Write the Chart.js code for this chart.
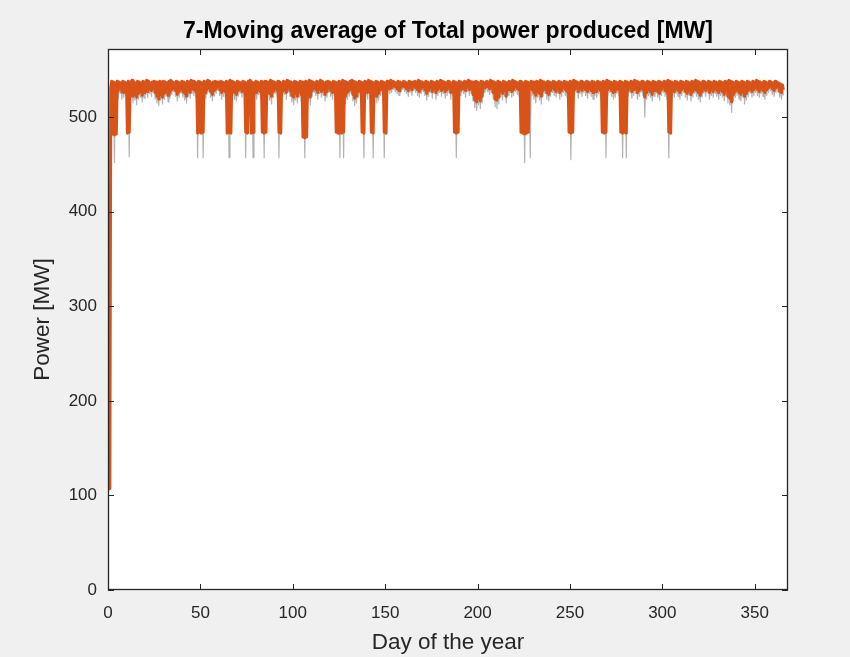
<!DOCTYPE html>
<html>
<head>
<meta charset="utf-8">
<title>7-Moving average of Total power produced [MW]</title>
<script src="https://cdn.jsdelivr.net/npm/chart.js@4.4.1/dist/chart.umd.min.js"></script>
<style>
body{margin:0;background:#f0f0f0;}
#wrap{width:850px;height:657px;}
</style>
</head>
<body>
<div id="wrap"><canvas id="chartCanvas" width="850" height="657"></canvas></div>
<script>
var titleText = '7-Moving average of Total power produced [MW]'
var xLabel = 'Day of the year'
var yLabel = 'Power [MW]'
var xTicks = [0, 50, 100, 150, 200, 250, 300, 350]
var yTicks = [0, 100, 200, 300, 400, 500]
var xMax = 368
var yMax = 572

// moving average (orange): daily high / daily low, day 0..365
var avgHigh = [
107,107,538,537,536,538,537,536,538,537,
536,538,537,539,537,536,538,537,536,538,
537,539,538,536,537,538,537,536,538,537,
538,537,536,538,539,537,536,538,537,536,
538,537,536,538,537,539,538,537,536,538,
537,536,538,537,539,538,536,537,538,537,
536,538,537,536,538,537,539,538,537,536,
538,537,536,538,537,536,538,539,537,536,
538,537,536,538,537,538,536,537,539,538,
537,536,538,537,536,538,537,539,538,537,
536,538,537,536,538,537,536,538,537,539,
538,537,536,538,537,539,538,536,537,538,
537,536,538,537,536,538,537,539,538,537,
536,538,539,538,537,536,538,537,536,538,
537,539,538,537,536,538,537,536,538,537,
536,538,537,539,538,537,536,538,537,536,
538,537,536,538,537,536,538,537,539,538,
537,536,538,537,536,538,537,536,538,537,
539,538,537,536,538,537,536,538,537,536,
538,537,536,538,537,539,538,537,536,538,
537,536,538,537,536,538,537,539,538,537,
536,538,537,536,538,537,536,538,537,539,
538,537,536,538,537,536,538,537,536,538,
537,536,538,537,539,538,537,536,538,537,
536,538,537,536,538,537,536,538,537,536,
538,537,539,538,537,536,538,537,536,538,
537,536,538,537,536,538,537,536,538,537,
539,538,537,536,538,537,536,538,537,536,
538,537,536,538,537,539,538,537,536,538,
537,536,538,537,536,538,537,536,538,537,
536,538,537,539,538,537,536,538,537,536,
538,537,536,538,537,536,538,537,539,538,
537,536,538,537,536,538,537,536,538,537,
536,538,537,536,538,537,539,538,537,536,
538,537,536,538,537,536,538,537,536,538,
537,539,538,537,536,538,537,536,538,537,
536,538,537,536,535,534
]
var avgLow = [
107,530,482,481,482,528,531,527,526,529,
483,484,529,522,524,521,525,527,523,526,
529,527,530,528,531,526,522,519,524,521,
525,527,523,526,529,531,528,524,527,530,
527,525,522,528,526,530,529,527,483,484,
483,484,526,529,531,527,524,528,530,532,
529,526,528,527,483,484,483,529,526,524,
528,530,527,529,484,483,531,483,484,528,
526,529,527,484,483,484,529,525,522,527,
530,528,484,483,527,529,526,531,528,523,
521,525,522,527,524,479,478,479,526,521,
528,531,529,526,530,527,529,524,527,531,
528,526,529,484,483,484,483,484,522,526,
528,530,524,520,522,527,529,484,483,528,
526,530,484,483,527,522,525,529,531,484,
483,532,530,531,533,532,530,528,531,533,
532,530,528,531,529,533,531,529,527,530,
532,529,525,528,531,527,530,526,529,531,
528,530,527,529,531,526,529,484,483,484,
529,531,530,528,532,529,530,524,518,516,
520,517,522,531,533,532,530,531,526,519,
518,521,527,525,528,522,529,531,527,529,
532,530,529,484,483,482,483,484,530,529,
526,523,527,525,522,528,530,526,524,528,
531,529,527,530,526,528,531,529,527,484,
483,484,529,531,527,530,528,531,529,527,
530,528,526,529,527,530,528,484,483,484,
529,531,528,526,527,530,529,484,483,484,
483,528,531,527,529,530,526,528,531,529,
521,526,529,527,524,528,530,527,525,529,
531,528,526,484,483,529,527,530,528,526,
529,531,527,525,529,524,527,530,528,526,
523,527,530,528,531,526,529,527,530,528,
526,529,527,524,528,522,520,516,524,527,
529,526,524,527,522,525,528,530,527,529,
531,529,527,530,528,526,529,531,533,530,
528,531,532,527,526,529
]

// raw power (grey): daily high / daily low, day 0..365
var rawHigh = [
107,107,536,535,536,535,536,535,536,535,
536,535,536,537,535,534,536,535,536,535,
536,537,535,536,535,536,535,534,536,535,
536,535,534,536,537,535,536,535,536,535,
536,535,536,535,536,537,536,535,534,536,
535,536,535,536,537,535,534,536,535,536,
535,536,535,534,536,535,537,536,535,534,
536,535,536,535,536,534,536,537,535,536,
535,536,535,536,535,536,534,535,537,536,
535,536,535,534,536,535,536,537,535,536,
534,536,535,536,535,536,534,536,535,537,
536,535,536,535,534,537,536,535,536,535,
536,535,536,535,536,535,534,537,536,535,
536,535,537,536,535,536,535,536,534,536,
535,537,536,535,536,535,534,536,535,536,
535,536,535,537,536,535,534,536,535,536,
536,535,534,536,535,536,535,536,537,536,
535,536,535,534,536,535,536,535,536,535,
537,536,535,536,535,534,536,535,536,535,
536,535,534,536,535,537,536,535,536,534,
535,536,535,536,534,536,535,537,536,535,
536,535,536,535,536,535,534,536,535,537,
536,535,536,535,536,534,536,535,536,535,
535,536,535,536,537,536,535,534,536,535,
536,535,536,535,534,536,535,536,535,536,
535,536,537,536,535,534,536,535,536,535,
536,535,534,536,535,536,535,536,535,536,
537,536,535,536,535,536,534,536,535,536,
535,536,535,534,536,537,536,535,536,535,
536,535,536,535,534,536,535,536,535,536,
535,536,535,537,536,535,534,536,535,536,
536,535,536,535,536,534,536,535,537,536,
535,536,534,536,535,536,535,534,536,535,
536,535,536,535,534,536,537,536,535,534,
536,535,536,534,535,536,535,536,535,536,
535,537,536,535,536,534,536,535,536,535,
534,536,535,534,533,532
]
var rawLow = [
107,526,486,452,486,520,525,519,521,523,
486,458,522,515,518,513,519,521,516,520,
524,521,525,522,526,519,515,512,518,514,
519,522,516,520,524,527,522,517,521,525,
521,518,515,522,520,525,523,521,457,486,
486,457,520,524,527,521,517,522,525,528,
523,519,522,521,486,457,486,523,519,517,
522,525,521,524,457,486,526,486,457,522,
519,524,521,486,457,486,523,518,514,521,
525,522,457,486,521,524,519,526,522,516,
513,518,515,521,517,481,457,481,519,513,
522,526,523,519,525,521,523,517,521,526,
522,519,523,486,486,457,486,457,514,519,
522,525,517,512,515,521,523,486,457,522,
519,525,486,457,521,515,518,523,526,457,
486,527,525,526,529,527,525,523,526,529,
527,525,522,526,523,528,526,523,521,525,
527,523,518,522,526,520,525,519,523,526,
522,525,520,523,526,519,523,486,457,486,
523,526,525,521,527,523,525,517,510,507,
513,509,515,526,528,527,524,526,519,511,
509,514,521,518,522,515,523,526,521,523,
527,524,522,486,486,452,486,486,457,523,
519,515,521,518,514,522,525,519,517,522,
526,523,521,525,519,522,526,523,521,486,
455,486,523,526,520,525,522,526,523,520,
525,522,519,523,521,525,522,486,486,457,
523,526,522,519,521,525,523,486,457,486,
457,522,526,520,523,525,519,522,526,523,
500,519,523,521,517,522,525,521,518,523,
526,522,519,457,486,523,521,525,522,519,
523,526,521,518,523,517,521,525,522,519,
516,521,525,522,526,519,523,521,525,522,
519,523,521,517,522,515,513,505,517,521,
523,519,517,521,514,518,522,525,521,523,
526,523,521,525,522,519,523,526,528,524,
522,526,527,521,519,523
]

// each day: high at the start of the day, low half a day later
function dayPoints(high, low){
	var pts = []
	for (var d = 0; d < high.length; d++){
		pts.push({x: d, y: high[d]})
		pts.push({x: d + 0.5, y: low[d]})
	}
	return pts
}

var axisColor = '#262626'
var font = '"Liberation Sans", Arial, Helvetica, sans-serif'

var boxPlugin = {
	id: 'box',
	beforeDraw: function(chart){
		var c = chart.ctx, a = chart.chartArea
		c.save()
		c.fillStyle = '#f0f0f0'
		c.fillRect(0, 0, chart.width, chart.height)
		c.fillStyle = '#ffffff'
		c.fillRect(a.left, a.top, a.right - a.left, a.bottom - a.top)
		c.restore()
	},
	afterDatasetsDraw: function(chart){
		var c = chart.ctx, a = chart.chartArea, len = 6
		var sx = chart.scales.x, sy = chart.scales.y
		c.save()
		c.strokeStyle = axisColor
		c.lineWidth = 1
		c.beginPath()
		sx.ticks.forEach(function(t){
			var px = Math.round(sx.getPixelForValue(t.value)) + 0.5
			c.moveTo(px, a.bottom); c.lineTo(px, a.bottom - len)
			c.moveTo(px, a.top); c.lineTo(px, a.top + len)
		})
		sy.ticks.forEach(function(t){
			var py = Math.round(sy.getPixelForValue(t.value)) + 0.5
			c.moveTo(a.left, py); c.lineTo(a.left + len, py)
			c.moveTo(a.right, py); c.lineTo(a.right - len, py)
		})
		c.stroke()
		c.lineWidth = 1.3
		c.strokeRect(a.left + 0.5, a.top + 0.5, a.right - a.left - 1, a.bottom - a.top - 1)
		c.restore()
	}
}

function showChart(){
	var ctx = document.getElementById('chartCanvas').getContext('2d')
	new Chart(ctx, {
		type: 'line',
		data: {
			datasets: [
			{
				label: '7-moving average',
				data: dayPoints(avgHigh, avgLow),
				borderColor: '#d95319',
				borderWidth: 3,
				borderJoinStyle: 'round',
				pointRadius: 0,
				fill: false,
				tension: 0
			},
			{
				label: 'Total power',
				data: dayPoints(rawHigh, rawLow),
				borderColor: '#b3b3b3',
				borderWidth: 1.2,
				borderJoinStyle: 'round',
				pointRadius: 0,
				fill: false,
				tension: 0
			}
			]
		},
		options: {
			responsive: false,
			animation: false,
			events: [],
			layout: {padding: {left: 0, right: 62, top: 0, bottom: 0}},
			plugins: {
				legend: {display: false},
				tooltip: {enabled: false},
				title: {
					display: true,
					text: titleText,
					fullSize: false,
					color: '#000',
					font: {family: font, size: 23, weight: 'bold'},
					padding: {top: 18, bottom: 3.4}
				}
			},
			scales: {
				x: {
					type: 'linear',
					min: 0,
					max: xMax,
					grid: {display: false},
					border: {display: false},
					afterBuildTicks: function(scale){
						scale.ticks = xTicks.map(function(v){ return {value: v} })
					},
					afterFit: function(scale){ scale.height = 67 },
					ticks: {color: axisColor, font: {family: font, size: 17}, padding: 5, maxRotation: 0},
					title: {display: true, text: xLabel, color: axisColor, font: {family: font, size: 22.5}, padding: {top: 0, bottom: 1}}
				},
				y: {
					type: 'linear',
					min: 0,
					max: yMax,
					grid: {display: false},
					border: {display: false},
					afterBuildTicks: function(scale){
						scale.ticks = yTicks.map(function(v){ return {value: v} })
					},
					afterFit: function(scale){ scale.width = 108 },
					ticks: {color: axisColor, font: {family: font, size: 17}, padding: 3},
					title: {display: true, text: yLabel, color: axisColor, font: {family: font, size: 22.5}, padding: {top: 29, bottom: 0}}
				}
			}
		},
		plugins: [boxPlugin]
	})
}

showChart()
</script>
</body>
</html>
